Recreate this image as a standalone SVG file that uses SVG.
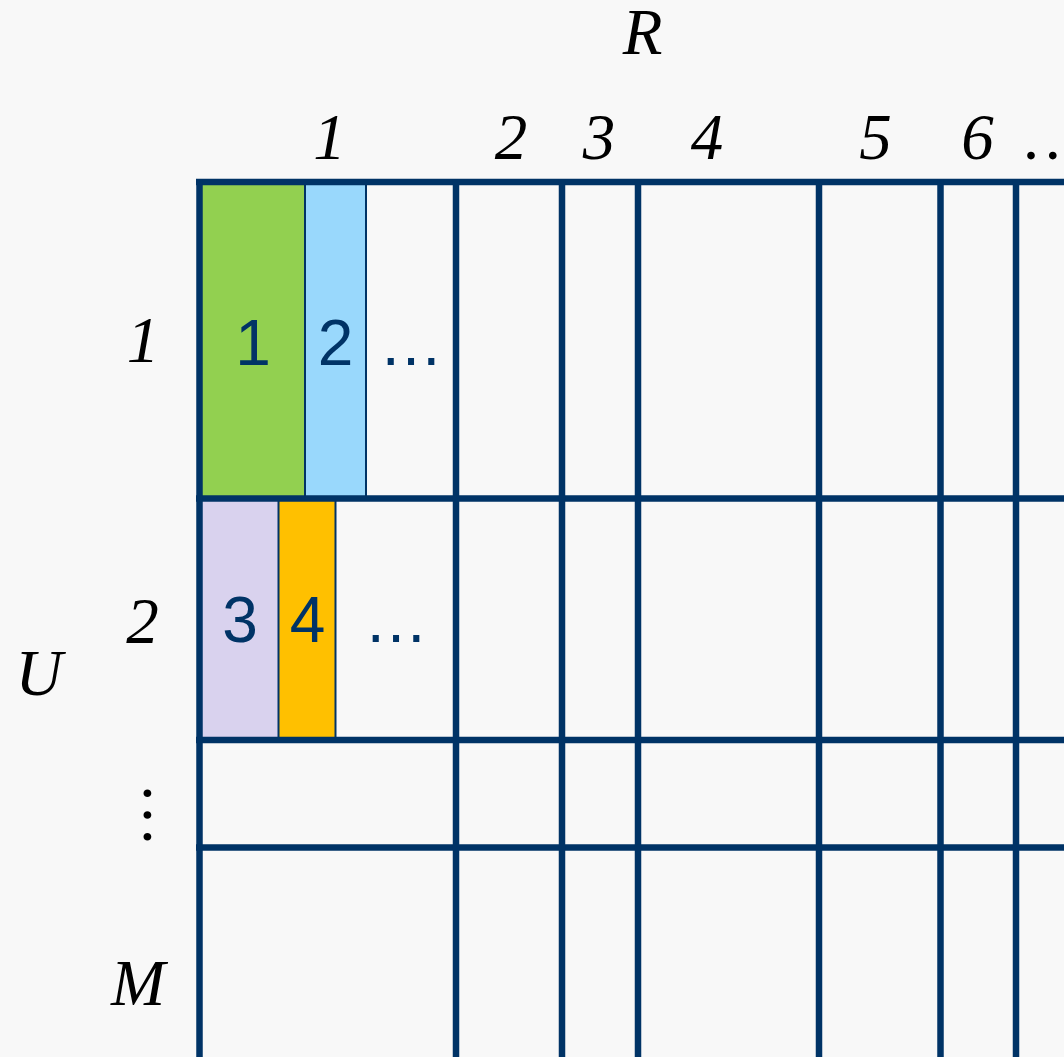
<svg xmlns="http://www.w3.org/2000/svg" width="1064" height="1057" viewBox="0 0 1064 1057">
  <style>
    .grid { stroke: #003366; stroke-width: 6.5; fill: none; }
    .sep { stroke: #003366; stroke-width: 2; }
    .lbl { font-family: "Liberation Serif", "Times New Roman", serif; font-style: italic; font-size: 65px; fill: #000000; text-anchor: middle; }
    .cell { font-family: "Liberation Sans", Arial, sans-serif; font-size: 64px; fill: #003366; text-anchor: middle; }
  </style>
  <rect x="0" y="0" width="1064" height="1057" fill="#F8F8F8"/>

  <g id="cells">
    <g id="cell-1"><rect x="202" y="185" width="103" height="311" fill="#92D050"/><text class="cell" x="253" y="365">1</text></g>
    <g id="cell-2"><rect x="305" y="185" width="61" height="311" fill="#99D8FC"/><text class="cell" x="335.5" y="365">2</text></g>
    <g id="cell-more-1"><text class="cell" x="411" y="365">…</text></g>
    <g id="cell-3"><rect x="202" y="501" width="77" height="237" fill="#D9D2EE"/><text class="cell" x="240" y="642">3</text></g>
    <g id="cell-4"><rect x="279" y="501" width="57" height="237" fill="#FFC000"/><text class="cell" x="307.5" y="642">4</text></g>
    <g id="cell-more-2"><text class="cell" x="396" y="642">…</text></g>
    <line class="sep" x1="305" y1="184" x2="305" y2="497"/>
    <line class="sep" x1="366" y1="184" x2="366" y2="497"/>
    <line class="sep" x1="278.5" y1="500" x2="278.5" y2="739"/>
    <line class="sep" x1="335.5" y1="500" x2="335.5" y2="739"/>
  </g>

  <g id="grid">
    <line class="grid" x1="196" y1="182" x2="1064" y2="182"/>
    <line class="grid" x1="196" y1="498.5" x2="1064" y2="498.5"/>
    <line class="grid" x1="196" y1="740" x2="1064" y2="740"/>
    <line class="grid" x1="196" y1="847.5" x2="1064" y2="847.5"/>
    <line class="grid" x1="199.5" y1="179" x2="199.5" y2="1057"/>
    <line class="grid" x1="456" y1="179" x2="456" y2="1057"/>
    <line class="grid" x1="562" y1="179" x2="562" y2="1057"/>
    <line class="grid" x1="638" y1="179" x2="638" y2="1057"/>
    <line class="grid" x1="819" y1="179" x2="819" y2="1057"/>
    <line class="grid" x1="940.5" y1="179" x2="940.5" y2="1057"/>
    <line class="grid" x1="1016" y1="179" x2="1016" y2="1057"/>
  </g>

  <g id="axis-R">
    <text class="lbl" x="642.5" y="54">R</text>
    <text class="lbl" x="329.5" y="159">1</text>
    <text class="lbl" x="511" y="159">2</text>
    <text class="lbl" x="599" y="159">3</text>
    <text class="lbl" x="707" y="159">4</text>
    <text class="lbl" x="875.5" y="159">5</text>
    <text class="lbl" x="977.5" y="159">6</text>
    <text class="lbl" x="1025" y="159" style="text-anchor:start">…</text>
  </g>

  <g id="axis-U">
    <text class="lbl" x="39" y="695">U</text>
    <text class="lbl" x="143" y="362">1</text>
    <text class="lbl" x="142.5" y="643">2</text>
    <text class="lbl" transform="translate(143.5,815) rotate(90)" x="0" y="0" style="font-style:normal">…</text>
    <text class="lbl" x="138" y="1005">M</text>
  </g>
</svg>
